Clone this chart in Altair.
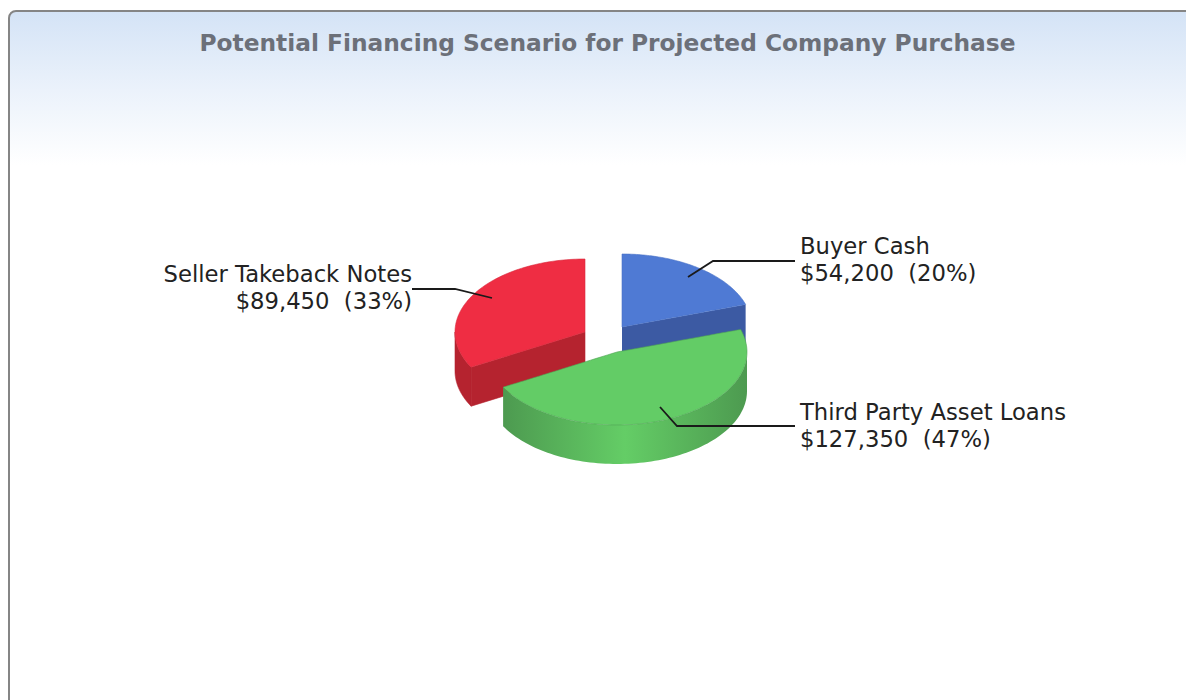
import math
import altair as alt
import numpy as np
import pandas as pd

# ---- chart values ----
categories = ["Buyer Cash", "Third Party Asset Loans", "Seller Takeback Notes"]
values = [54200, 127350, 89450]
title_text = "Potential Financing Scenario for Projected Company Purchase"

# ---- reference layout (page pixels) ----
W, H = 1178, 692
RX, RY, DEPTH = 130, 73, 39
centers = {"blue": (622, 327), "green": (617, 352), "red": (585, 332)}

total = sum(values)
shares = [v / total for v in values]
a0 = 0.0
a1 = a0 + 360 * shares[0]
a2 = a1 + 360 * shares[1]
a3 = 360.0


def rim(c, deg, drop=0):
    t = math.radians(deg)
    return (c[0] + RX * math.sin(t), c[1] - RY * math.cos(t) + drop)


def arc(c, d0, d1, drop=0, n=90):
    return [rim(c, d, drop) for d in np.linspace(d0, d1, n)]


def envelope(poly):
    """Upper and lower outline of an x-monotone polygon, one row per x."""
    pts = np.array(poly, dtype=float)
    xs = np.unique(np.round(pts[:, 0], 4))
    rows = []
    nxt = np.roll(pts, -1, axis=0)
    for x in xs:
        ys = []
        for (xa, ya), (xb, yb) in zip(pts, nxt):
            lo, hi = min(xa, xb), max(xa, xb)
            if lo - 1e-3 <= x <= hi + 1e-3:
                if abs(xb - xa) < 1e-6:
                    ys += [ya, yb]
                else:
                    ys.append(ya + (yb - ya) * (x - xa) / (xb - xa))
        rows.append({"x": float(x), "y": min(ys), "y2": max(ys)})
    return pd.DataFrame(rows)


X = alt.X("x:Q", scale=alt.Scale(domain=[8, 8 + W], nice=False, zero=False), axis=None)
Y = alt.Y("y:Q", scale=alt.Scale(domain=[8, 8 + H], reverse=True, nice=False, zero=False), axis=None)


def face(poly, fill, stroke=None):
    kw = {"stroke": stroke, "strokeWidth": 0.6} if stroke else {}
    return alt.Chart(envelope(poly)).mark_area(fill=fill, interpolate="linear", **kw).encode(
        x=X, y=Y, y2="y2:Q"
    )


def side_gradient(edge, mid):
    return alt.Gradient(
        gradient="linear", x1=0, x2=1, y1=0, y2=0,
        stops=[
            alt.GradientStop(color=edge, offset=0),
            alt.GradientStop(color=mid, offset=0.5),
            alt.GradientStop(color=edge, offset=1),
        ],
    )


cb, cg, cr = centers["blue"], centers["green"], centers["red"]

frame = alt.Chart(pd.DataFrame({"k": [0]})).mark_rect(
    cornerRadius=7, stroke="#858585", strokeWidth=2,
    fill=alt.Gradient(
        gradient="linear", x1=0, x2=0, y1=0, y2=1,
        stops=[
            alt.GradientStop(color="#d4e3f6", offset=0),
            alt.GradientStop(color="#ebf2fb", offset=0.11),
            alt.GradientStop(color="#ffffff", offset=0.215),
            alt.GradientStop(color="#ffffff", offset=1),
        ],
    ),
).encode(x=alt.value(1), x2=alt.value(1200), y=alt.value(3), y2=alt.value(720))

red_outer = arc(cr, a2, 270) + arc(cr, 270, a2, DEPTH)
red_inner = [cr, rim(cr, a2), rim(cr, a2, DEPTH), (cr[0], cr[1] + DEPTH)]
red_top = [cr] + arc(cr, a2, a3)
blue_inner = [cb, rim(cb, a1), rim(cb, a1, DEPTH), (cb[0], cb[1] + DEPTH)]
blue_top = [cb] + arc(cb, a0, a1)
green_outer = arc(cg, 90, a2) + arc(cg, a2, 90, DEPTH)
green_top = [cg] + arc(cg, a1, a2)

slices = [
    face(red_outer, "#b5232f", "#b5232f"),
    face(red_inner, "#b5232f", "#b5232f"),
    face(red_top, "#ef2d43", "#d92a3c"),
    face(blue_inner, "#3c5aa3"),
    face(blue_top, "#4f7ad4", "#4a72c6"),
    face(green_outer, side_gradient("#4d9a50", "#64cd66")),
    face(green_top, "#63cc66", "#4fa354"),
]

# ---- leader lines ----
leader_line = [0, 0, 0, 1, 1, 1, 2, 2, 2]
leader_step = [0, 1, 2, 0, 1, 2, 0, 1, 2]
leader_x = [688, 713, 795, 660, 677, 795, 492, 455, 412]
leader_y = [277, 261, 261, 407, 426, 426, 298, 289, 289]
leaders = alt.Chart(
    pd.DataFrame({"line": leader_line, "step": leader_step, "x": leader_x, "y": leader_y})
).mark_line(color="#1a1a1a", strokeWidth=1.8).encode(
    x=X, y=Y, detail="line:N", order="step:Q"
)

# ---- labels ----
pct = [round(s * 100) for s in shares]
label_x = [800, 800, 412]
label_y = [254, 420, 282]
label_align = ["left", "left", "right"]
LINE = 27
rows = []
for name, v, p, lx, ly, al in zip(categories, values, pct, label_x, label_y, label_align):
    rows.append({"x": lx, "y": ly, "t": name, "al": al})
    rows.append({"x": lx, "y": ly + LINE, "t": f"${v:,}\u00a0\u00a0({p}%)", "al": al})
labels_df = pd.DataFrame(rows)
labels = []
for al in ["left", "right"]:
    labels.append(
        alt.Chart(labels_df[labels_df.al == al]).mark_text(
            align=al, baseline="alphabetic", font="DejaVu Sans", fontSize=22.7, color="#222222"
        ).encode(x=X, y=Y, text="t:N")
    )

chart = alt.layer(frame, *slices, leaders, *labels).properties(
    width=W, height=H, padding=0,
    autosize=alt.AutoSizeParams(type="none"),
    background="white",
    title=alt.TitleParams(
        title_text, anchor="middle", frame="group", orient="top", baseline="alphabetic",
        offset=-66, dx=10.5, font="DejaVu Sans", fontSize=23.3, fontWeight="bold", color="#6c7079",
    ),
).configure_view(stroke=None)

chart.save("out.html", embed_options={"renderer": "svg", "actions": False})
